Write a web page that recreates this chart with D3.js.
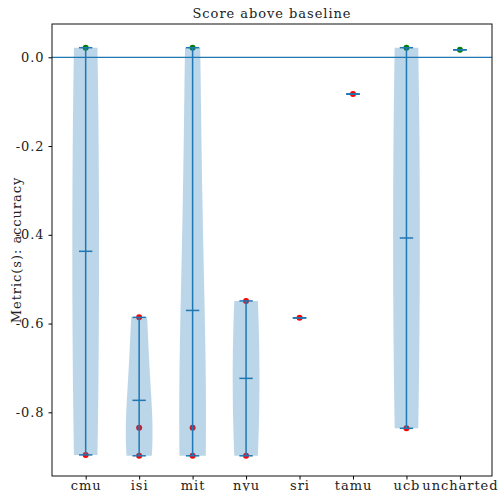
<!DOCTYPE html>
<html>
<head>
<meta charset="utf-8">
<script src="https://cdn.jsdelivr.net/npm/d3@7"></script>
<style>
  body { margin: 0; background: #fff; }
  text { font-family: "DejaVu Serif", "Liberation Serif", serif; fill: #222; }
</style>
</head>
<body>
<svg id="chart" width="499" height="491"></svg>
<script>
// teams on the x axis
const teams = ["cmu", "isi", "mit", "nyu", "sri", "tamu", "ucb", "uncharted"];
// scores above baseline, per team
const cmu = [0.0216, -0.896];
const isi = [-0.586, -0.835, -0.898];
const mit = [0.0216, -0.835, -0.898];
const nyu = [-0.549, -0.898];
const sri = [-0.587];
const tamu = [-0.083];
const ucb = [0.0216, -0.836];
const uncharted = [0.017];
const scores = [cmu, isi, mit, nyu, sri, tamu, ucb, uncharted];
const yTicks = [0.0, -0.2, -0.4, -0.6, -0.8];

const blue = "#1f77b4";
const margin = { top: 24, right: 7, bottom: 15, left: 52 };
const W = 499, H = 491;
const fs = "13px", ls = "0.95px";

const svg = d3.select("#chart");

const x = d3.scaleLinear().domain([0.37, 8.6]).range([margin.left, W - margin.right]);
const y = d3.scaleLinear().domain([-0.9435, 0.075]).range([H - margin.bottom, margin.top]);

// gaussian kde, scott's rule like matplotlib
function kde(vals, n) {
   const sd = d3.deviation(vals);
   const bw = Math.pow(vals.length, -0.2) * sd;
   const lo = d3.min(vals), hi = d3.max(vals);
   const pts = d3.range(n).map(i => lo + (hi - lo) * i / (n - 1));
   return pts.map(p => [p, d3.sum(vals, v => Math.exp(-0.5 * ((p - v) / bw) ** 2))]);
}

const halfW = 0.25; // violin half width in x units

// dots first so the violin body sits over them
scores.forEach((vals, i) =>
   vals.forEach(v =>
      svg.append("circle")
         .attr("cx", x(i + 1))
         .attr("cy", y(v))
         .attr("r", 3)
         .attr("fill", v > 0 ? "green" : "red")
   )
);

scores.forEach((vals, i) => {
   const pos = i + 1;
   if (vals.length > 1) {
      const dens = kde(vals, 100);
      const dmax = d3.max(dens, d => d[1]);
      const area = d3.area()
         .y(d => y(d[0]))
         .x0(d => x(pos - halfW * d[1] / dmax))
         .x1(d => x(pos + halfW * d[1] / dmax));
      svg.append("path")
         .attr("d", area(dens))
         .attr("fill", blue)
         .attr("fill-opacity", 0.3);
      svg.append("line")
         .attr("x1", x(pos)).attr("x2", x(pos))
         .attr("y1", y(d3.min(vals))).attr("y2", y(d3.max(vals)))
         .attr("stroke", blue).attr("stroke-width", 1.5);
   }
   [d3.min(vals), d3.max(vals), d3.mean(vals)].forEach(v =>
      svg.append("line")
         .attr("x1", x(pos - halfW / 2)).attr("x2", x(pos + halfW / 2))
         .attr("y1", y(v)).attr("y2", y(v))
         .attr("stroke", blue).attr("stroke-width", 1.5)
   );
});

// baseline
svg.append("line")
   .attr("x1", margin.left).attr("x2", W - margin.right)
   .attr("y1", y(0)).attr("y2", y(0))
   .attr("stroke", blue).attr("stroke-width", 1.2);

// frame
svg.append("rect")
   .attr("x", margin.left).attr("y", margin.top)
   .attr("width", W - margin.right - margin.left)
   .attr("height", H - margin.bottom - margin.top)
   .attr("fill", "none").attr("stroke", "#111").attr("stroke-width", 1);

const yAxis = svg.append("g")
   .attr("transform", `translate(${margin.left},0)`)
   .call(d3.axisLeft(y).tickValues(yTicks).tickSize(3.5).tickPadding(4));
yAxis.select(".domain").remove();
yAxis.selectAll("text").style("font-size", fs).style("letter-spacing", ls)
   .text(d => d3.format(".1f")(d).replace("−", "-"));

const xAxis = svg.append("g")
   .attr("transform", `translate(0,${H - margin.bottom})`)
   .call(d3.axisBottom(x).tickValues(d3.range(1, teams.length + 1)).tickFormat(d => teams[d - 1]).tickSize(3.5).tickPadding(1.5));
xAxis.select(".domain").remove();
xAxis.selectAll("text").style("font-size", fs).style("letter-spacing", ls);

svg.append("text")
   .attr("x", (margin.left + W - margin.right) / 2)
   .attr("y", 18)
   .attr("text-anchor", "middle")
   .style("font-size", fs).style("letter-spacing", ls)
   .text("Score above baseline");

svg.append("text")
   .attr("transform", `translate(21,${(margin.top + H - margin.bottom) / 2}) rotate(-90)`)
   .attr("text-anchor", "middle")
   .style("font-size", fs).style("letter-spacing", ls)
   .text("Metric(s): accuracy");
</script>
</body>
</html>
